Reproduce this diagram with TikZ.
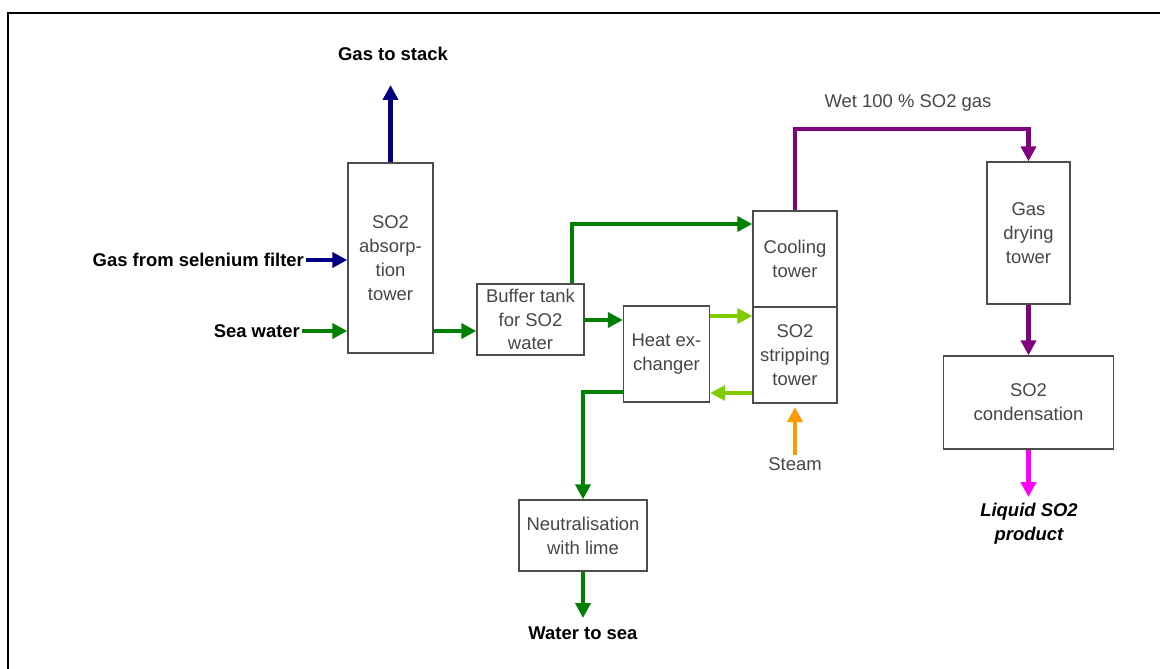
\documentclass[tikz,border=0pt]{standalone}
\usepackage{fontspec}
\setmainfont{Liberation Sans}
\usepackage{tikz}
\usetikzlibrary{arrows.meta, positioning, calc}
\usepackage{xcolor}
\definecolor{gasblue}{RGB}{0,0,128}
\definecolor{water}{RGB}{0,128,0}
\definecolor{hotwater}{RGB}{128,204,0}
\definecolor{steamor}{RGB}{255,153,0}
\definecolor{so2gas}{RGB}{128,0,128}
\definecolor{liquid}{RGB}{255,0,255}
\definecolor{boxtext}{RGB}{70,70,70}

\begin{document}
\begin{tikzpicture}[x=0.02cm, y=-0.02cm,
  unit/.style={draw=black!70, line width=0.8pt, fill=white, align=center,
    text=boxtext, font=\fontsize{10.5}{13.6}\selectfont, inner sep=0pt},
  lbl/.style={font=\bfseries\fontsize{10.5}{13.6}\selectfont, inner sep=1pt},
  note/.style={text=boxtext, font=\fontsize{10.5}{13.6}\selectfont, inner sep=1pt},
  flow/.style={line width=2.3pt, -{Triangle[length=8.5pt, width=8.5pt]}}]
  \useasboundingbox (0,0) rectangle (1160,669);
  \draw[line width=1.7pt] (1170,13) -- (8,13) -- (8,680);

  % process units
  \node[unit, minimum width=1.70cm, minimum height=3.80cm] (absorb) at (390.5,258) {SO2\\absorp-\\tion\\tower};
  \node[unit, minimum width=2.14cm, minimum height=1.42cm] (buffer) at (530.5,319.5) {Buffer tank\\for SO2\\water};
  \node[unit, minimum width=1.72cm, minimum height=1.92cm] (hex) at (666.5,354) {Heat ex-\\changer};
  \node[unit, minimum width=1.68cm, minimum height=1.92cm] (cooling) at (795,259) {Cooling\\tower};
  \node[unit, minimum width=1.68cm, minimum height=1.92cm] (strip) at (795,355) {SO2\\stripping\\tower};
  \node[unit, minimum width=1.66cm, minimum height=2.84cm] (drying) at (1028.5,233) {Gas\\drying\\tower};
  \node[unit, minimum width=3.40cm, minimum height=1.86cm] (condense) at (1028.5,402.5) {SO2\\condensation};
  \node[unit, minimum width=2.56cm, minimum height=1.42cm] (neutral) at (583,535.5) {Neutralisation\\with lime};

  % stream labels
  \node[lbl] (stack) at (393,54) {Gas to stack};
  \node[lbl, anchor=east] (selen) at (306,260) {Gas from selenium filter};
  \node[lbl, anchor=east] (sea) at (302,331) {Sea water};
  \node[lbl] (tosea) at (583,633) {Water to sea};
  \node[lbl, font=\bfseries\itshape\fontsize{10.5}{13.6}\selectfont, align=center] (liq) at (1029,524) {Liquid SO2\\product};
  \node[note] (steam) at (795,464) {Steam};
  \node[note] (wetgas) at (908,103) {Wet 100 \% SO2 gas};
  \coordinate (stacktip) at (390.5,85);
  \coordinate (seatip) at (583,618);
  \coordinate (liqtip) at (1028.5,497);

  % streams
  \draw[flow, gasblue] (absorb.north) -- (stacktip);
  \draw[flow, gasblue] (selen.east) -- (absorb.west |- selen.east);
  \draw[flow, water] (sea.east) -- (absorb.west |- sea.east);
  \draw[flow, water] (absorb.east |- 0,331) -- (buffer.west |- 0,331);
  \draw[flow, water] (572,0 |- buffer.north) |- (cooling.west |- 0,224);
  \draw[flow, water] (buffer.east |- 0,320) -- (hex.west |- 0,320);
  \draw[flow, hotwater, line width=1.9pt] (hex.east |- 0,316) -- (strip.west |- 0,316);
  \draw[flow, hotwater, line width=1.9pt] (strip.west |- 0,393) -- (hex.east |- 0,393);
  \draw[flow, water] (hex.west |- 0,392) -| (neutral.north);
  \draw[flow, water] (neutral.south) -- (seatip);
  \draw[flow, steamor] (steam.north) -- ([yshift=-2pt]strip.south);
  \draw[flow, so2gas] (cooling.north) -- (cooling.north |- 0,129) -| (drying.north);
  \draw[flow, so2gas] (drying.south) -- (condense.north);
  \draw[flow, liquid] (condense.south) -- (liqtip);
\end{tikzpicture}
\end{document}
